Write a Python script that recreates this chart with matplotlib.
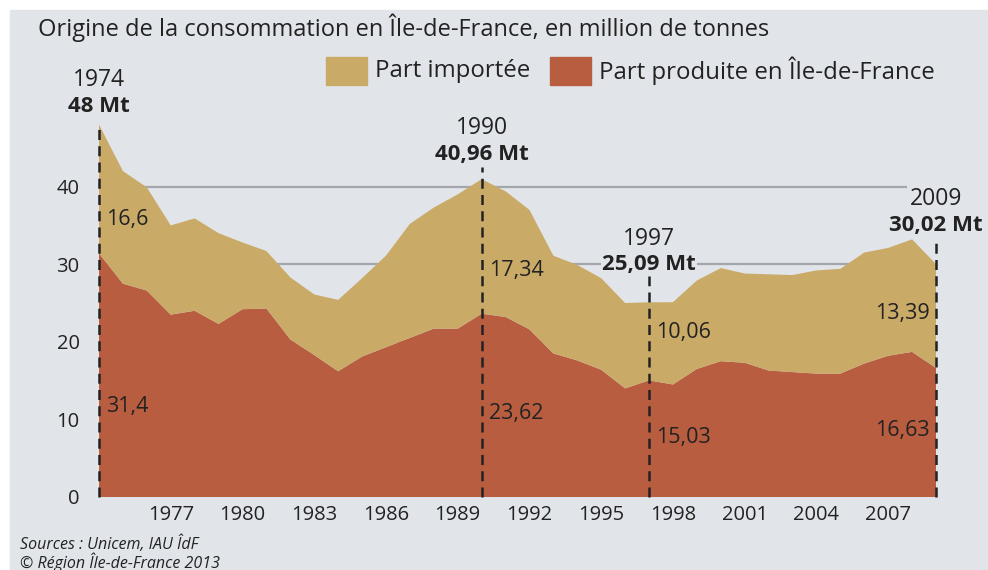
import numpy as np
import matplotlib.pyplot as plt
from matplotlib.patches import Rectangle

plt.rcParams['font.family'] = ['Open Sans', 'DejaVu Sans']

years = np.arange(1974, 2010)

# production locale (Mt)
produite = [31.4, 27.5, 26.6, 23.5, 24.0, 22.3, 24.2, 24.3, 20.3, 18.3,
            16.2, 18.1, 19.3, 20.5, 21.7, 21.7, 23.62, 23.2, 21.6, 18.5,
            17.6, 16.4, 14.0, 15.03, 14.5, 16.5, 17.5, 17.3, 16.3, 16.1,
            15.9, 15.9, 17.2, 18.2, 18.7, 16.63]

# part importee (Mt)
importee = [16.6, 14.5, 13.3, 11.5, 11.9, 11.7, 8.6, 7.4, 8.0, 7.8,
            9.2, 10.1, 11.8, 14.7, 15.6, 17.3, 17.34, 16.2, 15.4, 12.6,
            12.3, 11.8, 11.0, 10.06, 10.6, 11.4, 12.0, 11.5, 12.4, 12.5,
            13.3, 13.5, 14.3, 13.9, 14.5, 13.39]

# annees mises en avant : (annee, total affiche)
reperes = [(1974, "48"), (1990, "40,96"), (1997, "25,09"), (2009, "30,02")]

xticks = list(range(1977, 2009, 3))
yticks = [0, 10, 20, 30, 40]

c_imp = "#c9aa67"
c_prod = "#b85d40"
c_bg = "#e1e5ea"
c_txt = "#222222"

produite = np.array(produite)
importee = np.array(importee)
total = produite + importee

W, H = 988, 570
fig = plt.figure(figsize=(W / 100, H / 100), dpi=100)
fig.patch.set_facecolor("white")
fig.patches.append(Rectangle((10 / W, 0), 1, 1 - 10 / H, transform=fig.transFigure,
                             color=c_bg, zorder=-10))

ax = fig.add_axes([99 / W, 1 - 497 / H, (936 - 99) / W, (497 - 109) / H])
ax.patch.set_alpha(0)
ax.set_xlim(1974, 2009)
ax.set_ylim(0, 50)
for s in ax.spines.values():
    s.set_visible(False)

ax.hlines(yticks[1:], 1974, 2007.8, color="#a3a6ab", lw=1.6, zorder=0)

ax.stackplot(years, produite, importee, colors=[c_prod, c_imp], lw=0, zorder=1)

ax.set_xticks(xticks)
ax.set_xticklabels([str(y) for y in xticks], fontsize=14.5, color=c_txt)
ax.set_yticks(yticks)
ax.set_yticklabels([str(v) for v in yticks], fontsize=14.5, color=c_txt)
ax.tick_params(axis='x', length=0, pad=6)
ax.tick_params(axis='y', length=0, pad=14)

# lignes pointillees
tops = {1974: 0.0, 1990: 1.6, 1997: 3.4, 2009: 2.7}
for yr, tot_lbl in reperes:
    i = yr - 1974
    ax.plot([yr, yr], [0, total[i] + tops[yr]], color=c_txt, lw=1.8,
            ls=(0, (4, 2.5)), zorder=3, clip_on=False)

lbl_pos = {1974: (1974, 53.7, 50.3), 1990: (1990, 47.5, 44.2),
           1997: (1997, 33.2, 30.0), 2009: (2009, 38.4, 35.0)}
for yr, tot_lbl in reperes:
    x, y1, y2 = lbl_pos[yr]
    ax.text(x, y1, str(yr), ha="center", va="center", fontsize=16.5,
            color=c_txt, clip_on=False)
    kw = {}
    if yr == 1997:
        kw["bbox"] = dict(fc=c_bg, ec="none", pad=1)
    ax.text(x, y2, tot_lbl + " Mt", ha="center", va="center", fontsize=16,
            fontweight="bold", color=c_txt, clip_on=False, **kw)

# valeurs dans les aires
def fmt(v):
    return ("%g" % v).replace(".", ",")

vals = [(1974, 35.7, 11.7, "left"), (1990, 29.2, 10.8, "left"),
        (1997, 21.2, 7.7, "left"), (2009, 23.7, 8.6, "right")]
for yr, y_imp, y_prod, ha in vals:
    i = yr - 1974
    dx = 0.3 if ha == "left" else -0.25
    ax.text(yr + dx, y_imp, fmt(importee[i]), ha=ha, va="center",
            fontsize=15.5, color=c_txt, zorder=4)
    ax.text(yr + dx, y_prod, fmt(produite[i]), ha=ha, va="center",
            fontsize=15.5, color=c_txt, zorder=4)

fig.text(38 / W, 1 - 28 / H, "Origine de la consommation en Île-de-France, en million de tonnes",
         ha="left", va="center", fontsize=17, color=c_txt)

# legende
for x0, col, lbl in [(326, c_imp, "Part importée"),
                     (550, c_prod, "Part produite en Île-de-France")]:
    fig.patches.append(Rectangle((x0 / W, 1 - 85 / H), 41 / W, 28 / H,
                                 transform=fig.transFigure, color=col))
    fig.text((x0 + 49) / W, 1 - 71 / H, lbl, ha="left", va="center",
             fontsize=17.3, color=c_txt)

fig.text(20 / W, 1 - 544 / H, "Sources : Unicem, IAU ÎdF", ha="left", va="center",
         fontsize=11.5, style="italic", color=c_txt)
fig.text(20 / W, 1 - 562 / H, "© Région Île-de-France 2013", ha="left", va="center",
         fontsize=11.5, style="italic", color=c_txt)

fig.savefig("out.png", dpi=100, facecolor=fig.get_facecolor())
